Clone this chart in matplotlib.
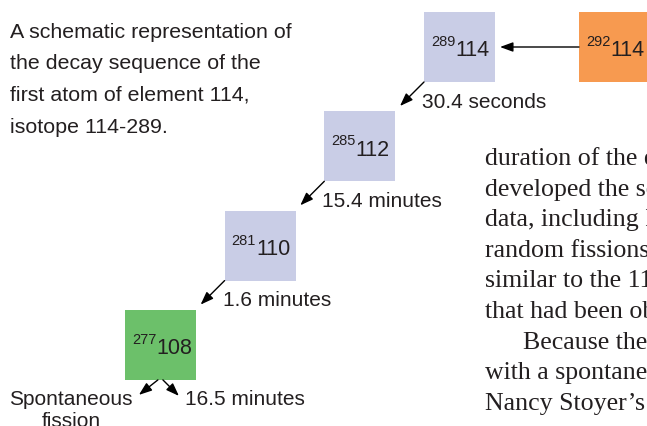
import matplotlib.pyplot as plt
from matplotlib.patches import Rectangle, FancyArrowPatch

# decay chain: mass number, element (Z), time to next step
masses = [289, 285, 281, 277]
elements = [114, 112, 110, 108]
times = ["30.4 seconds", "15.4 minutes", "1.6 minutes", "16.5 minutes"]
box_colors = ["#c9cde6", "#c9cde6", "#c9cde6", "#6cc06a"]

parent_mass = 292
parent_element = 114
parent_color = "#f79a50"

caption = ["A schematic representation of",
           "the decay sequence of the",
           "first atom of element 114,",
           "isotope 114-289."]

page_text = ["duration of the e",
             "developed the se",
             "data, including L",
             "random fissions",
             "similar to the 114",
             "that had been ob",
             "Because the",
             "with a spontane",
             "Nancy Stoyer\u2019s"]

ink = "#231f20"
sans = "Liberation Sans"
serif = "Liberation Serif"

fig = plt.figure(figsize=(6.47, 4.26), dpi=100)
ax = fig.add_axes([0, 0, 1, 1])
ax.set_xlim(0, 647)
ax.set_ylim(426, 0)
ax.axis("off")

box_w, box_h = 71, 70
step_x, step_y = 99.7, 99.3


def nuclide(cx, cy, a, z):
    ax.text(cx - 4, cy + 4, str(z), fontsize=15.5, family=sans, color=ink,
            ha="left", va="center")
    ax.text(cx - 4, cy - 5, str(a), fontsize=10.5, family=sans, color=ink,
            ha="right", va="center")


def arrow(p0, p1):
    ax.add_patch(FancyArrowPatch(p0, p1, arrowstyle="-|>,head_length=0.6,head_width=0.22",
                                 mutation_scale=13, color="black", lw=1.0,
                                 shrinkA=0, shrinkB=0))


# parent box
px0, py0 = 579, 12
ax.add_patch(Rectangle((px0, py0), box_w, box_h, color=parent_color, lw=0))
nuclide(px0 + box_w / 2, py0 + box_h / 2, parent_mass, parent_element)
arrow((px0, py0 + box_h / 2), (500, py0 + box_h / 2))

for i in range(len(masses)):
    x0 = 424 - step_x * i
    y0 = 12 + step_y * i
    ax.add_patch(Rectangle((x0, y0), box_w, box_h, color=box_colors[i], lw=0))
    nuclide(x0 + box_w / 2, y0 + box_h / 2, masses[i], elements[i])
    if i < len(masses) - 1:
        arrow((x0, y0 + box_h), (x0 - 24, y0 + box_h + 24))
        ax.text(x0 - 2, y0 + box_h + 20, times[i], fontsize=15, family=sans,
                color=ink, ha="left", va="center")
    else:
        arrow((x0 + 33, y0 + box_h), (x0 + 14, y0 + box_h + 15))
        arrow((x0 + 38, y0 + box_h), (x0 + 54, y0 + box_h + 16))
        ax.text(x0 + 60, y0 + box_h + 20, times[i], fontsize=15, family=sans,
                color=ink, ha="left", va="center")
        ax.text(x0 + 8, y0 + box_h + 20, "Spontaneous", fontsize=15,
                family=sans, color=ink, ha="right", va="center")
        ax.text(x0 - 54, y0 + box_h + 42, "fission", fontsize=15,
                family=sans, color=ink, ha="center", va="center")

for j, line in enumerate(caption):
    ax.text(10, 32 + 31.7 * j, line, fontsize=15.4, family=sans, color=ink,
            ha="left", va="center")

for j, line in enumerate(page_text):
    x = 523 if line.startswith("Because") else 485
    ax.text(x, 159 + 30.6 * j, line, fontsize=18.6, family=serif, color=ink,
            ha="left", va="center")

fig.savefig("out.png", dpi=100)
